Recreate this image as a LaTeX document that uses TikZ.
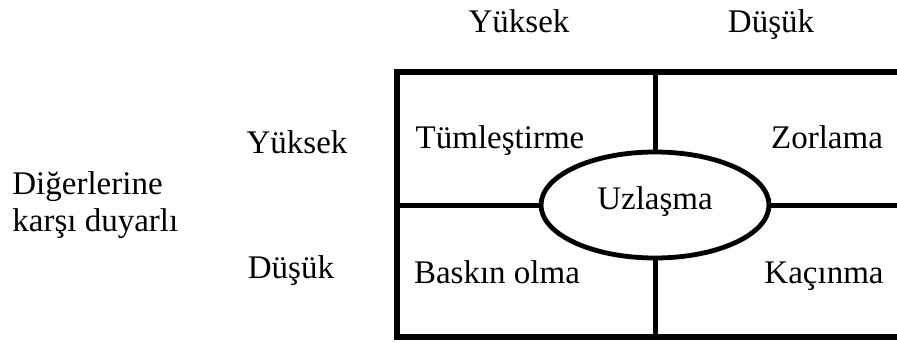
\documentclass[tikz,border=0pt]{standalone}
\usepackage{fontspec}
\setmainfont{Liberation Serif}
\usetikzlibrary{shapes.geometric}

\begin{document}
\begin{tikzpicture}[x=0.5pt, y=-0.5pt, font=\fontsize{16.5}{18.5}\selectfont,
                    lbl/.style={anchor=base, inner sep=0pt}]
                    \useasboundingbox (0, 0) rectangle (897, 342);

                    \coordinate (tl) at (397, 72);
                    \coordinate (bl) at (397, 337);
                    \coordinate (tr) at (905, 72);
                    \coordinate (br) at (905, 337);
                    \coordinate (tm) at (655, 72);
                    \coordinate (bm) at (655, 337);
                    \coordinate (ml) at (397, 205);
                    \coordinate (mr) at (905, 205);

                    \node (uz) at (655, 205) [ellipse, draw, line width=2.4pt, minimum width=114pt, minimum height=53pt, inner sep=0pt] {};
                    \node (uzt) at (655, 209) [lbl] {Uzlaşma};

                    \draw[line width=2.6pt] (tr) -- (tl) -- (bl) -- (br);
                    \draw[line width=2.5pt] (tm) -- (uz);
                    \draw[line width=2.5pt] (bm) -- (uz);
                    \draw[line width=2.5pt] (ml) -- (uz);
                    \draw[line width=2.5pt] (mr) -- (uz);

                    \node (tum) at (500, 148) [lbl] {Tümleştirme};
                    \node (zor) at (827, 148) [lbl] {Zorlama};
                    \node (bas) at (497, 283) [lbl] {Baskın olma};
                    \node (kac) at (824, 283) [lbl] {Kaçınma};

                    \node (yuk1) at (519, 33) [lbl] {Yüksek};
                    \node (dus1) at (771, 33) [lbl] {Düşük};
                    \node (yuk2) at (297, 153) [lbl] {Yüksek};
                    \node (dus2) at (291, 278) [lbl] {Düşük};

                    \node (dig) at (12, 205) [anchor=west, align=left, inner sep=0pt] {Diğerlerine\\karşı duyarlı};
                \end{tikzpicture}
\end{document}
